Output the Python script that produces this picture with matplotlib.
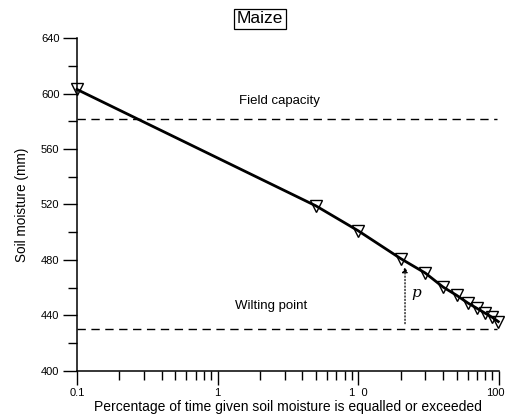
import matplotlib
matplotlib.use("Agg")
import matplotlib.pyplot as plt
import matplotlib.transforms as mtransforms
from matplotlib.ticker import FixedLocator, NullFormatter

plt.rcParams['font.family'] = ['Liberation Sans', 'DejaVu Sans']

# exceedance percentage vs soil moisture
pct = [0.1, 5, 10, 20, 30, 40, 50, 60, 70, 80, 90, 99]
moisture = [603, 519, 501, 481, 470.5, 460.5, 454.5, 449, 445, 441.5, 438.5, 435.5]

field_capacity = 582
wilting_point = 430
p_x = 21.5
p_top = 475

xticks = [0.1, 1, 10, 100]
xticklabels = ['0.1', '1', '1  0', '100']
yticks = [400, 440, 480, 520, 560, 600, 640]

fig = plt.figure(figsize=(5.06, 4.19), dpi=100)
ax = fig.add_axes([0.152, 0.115, 0.834, 0.794])

ax.set_xscale('log')
ax.plot(pct, moisture, color='black', lw=2.0, marker='v', ms=9,
        mfc='none', mec='black', mew=1.0, clip_on=False, zorder=3)

ax.axhline(field_capacity, color='black', lw=1.0, ls=(0, (6, 4)), xmax=0.995)
ax.axhline(wilting_point, color='black', lw=1.0, ls=(0, (6, 4)), xmax=0.995)
ax.text(2.75, 595, 'Field capacity', ha='center', va='center', fontsize=9.5)
ax.text(2.4, 446.5, 'Wilting point', ha='center', va='center', fontsize=9.5)

ax.annotate('', xy=(p_x, p_top), xytext=(p_x, wilting_point + 4),
            arrowprops=dict(arrowstyle='-|>', color='black', lw=0.9,
                            ls=':', mutation_scale=8, shrinkA=0, shrinkB=0))
ax.text(24, 456, 'p', fontsize=11, style='italic', family='DejaVu Serif',
        ha='left', va='center')

ax.set_xlim(0.1, 100)
ax.set_ylim(400, 640)
ax.set_xticks(xticks)
ax.set_xticklabels(xticklabels)
ax.xaxis.set_minor_formatter(NullFormatter())
ax.set_yticks(yticks)
ax.yaxis.set_minor_locator(FixedLocator([420, 460, 500, 540, 580, 620]))

for s in ['top', 'right']:
    ax.spines[s].set_visible(False)
for s in ['left', 'bottom']:
    ax.spines[s].set_linewidth(1.1)
ax.tick_params(which='major', length=10, width=1.0, labelsize=8, pad=2.5)
ax.tick_params(which='minor', length=6.5, width=1.0)

# keep the last label inside the figure edge
last = ax.get_xticklabels()[-1]
last.set_transform(last.get_transform() +
                   mtransforms.ScaledTranslation(-4 / 100, 0, fig.dpi_scale_trans))

ax.set_xlabel('Percentage of time given soil moisture is equalled or exceeded',
              fontsize=10, labelpad=1)
ax.set_ylabel('Soil moisture (mm)', fontsize=9.8, labelpad=9)

fig.text(0.514, 0.955, 'Maize', ha='center', va='center', fontsize=12.5,
         bbox=dict(boxstyle='square,pad=0.15', fc='white', ec='black', lw=0.9))

fig.savefig('out.png', dpi=100)
